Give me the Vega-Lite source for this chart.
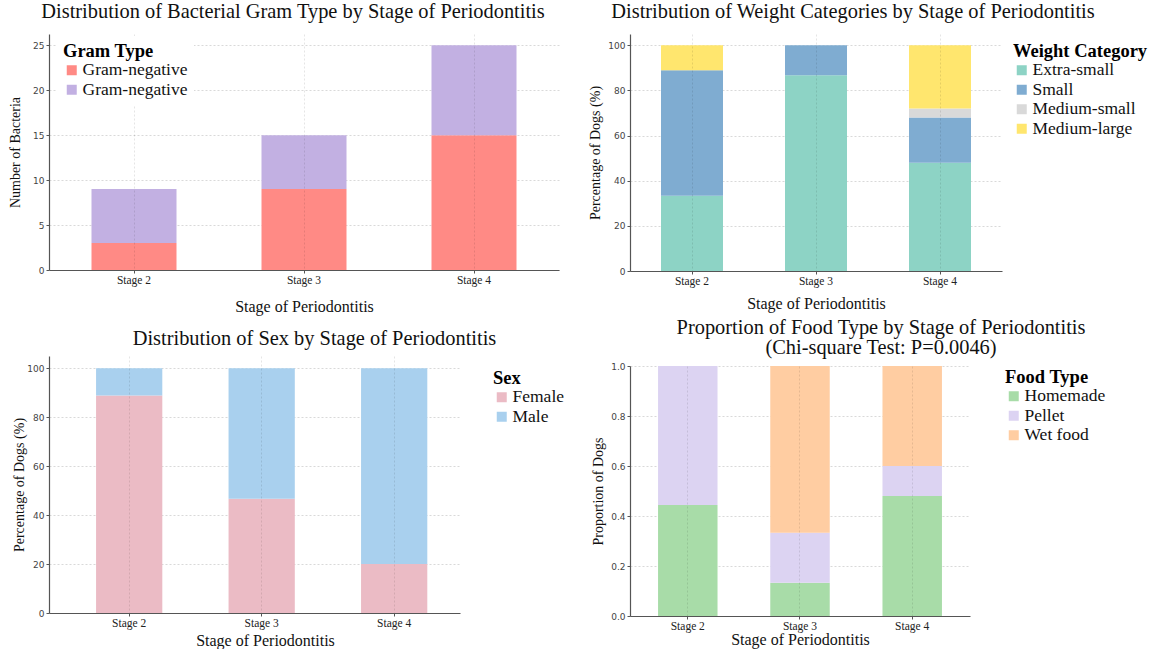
{
  "$schema": "https://vega.github.io/schema/vega-lite/v6.json",
  "padding": {"left": 8, "top": 1, "right": 0, "bottom": 0},
  "background": "white",
  "datasets": {
    "gram": [
      {"stage": "Stage 2", "gram": "Gram-negative", "count": 3},
      {"stage": "Stage 2", "gram": "Gram-positive", "count": 6},
      {"stage": "Stage 3", "gram": "Gram-negative", "count": 9},
      {"stage": "Stage 3", "gram": "Gram-positive", "count": 6},
      {"stage": "Stage 4", "gram": "Gram-negative", "count": 15},
      {"stage": "Stage 4", "gram": "Gram-positive", "count": 10}
    ],
    "weight": [
      {"stage": "Stage 2", "category": "Extra-small", "pct": 33.3},
      {"stage": "Stage 2", "category": "Small", "pct": 55.6},
      {"stage": "Stage 2", "category": "Medium-large", "pct": 11.1},
      {"stage": "Stage 3", "category": "Extra-small", "pct": 86.7},
      {"stage": "Stage 3", "category": "Small", "pct": 13.3},
      {"stage": "Stage 4", "category": "Extra-small", "pct": 48},
      {"stage": "Stage 4", "category": "Small", "pct": 20},
      {"stage": "Stage 4", "category": "Medium-small", "pct": 4},
      {"stage": "Stage 4", "category": "Medium-large", "pct": 28}
    ],
    "sex": [
      {"stage": "Stage 2", "sex": "Female", "pct": 88.9},
      {"stage": "Stage 2", "sex": "Male", "pct": 11.1},
      {"stage": "Stage 3", "sex": "Female", "pct": 46.7},
      {"stage": "Stage 3", "sex": "Male", "pct": 53.3},
      {"stage": "Stage 4", "sex": "Female", "pct": 20},
      {"stage": "Stage 4", "sex": "Male", "pct": 80}
    ],
    "food": [
      {"stage": "Stage 2", "food": "Homemade", "prop": 0.444},
      {"stage": "Stage 2", "food": "Pellet", "prop": 0.556},
      {"stage": "Stage 3", "food": "Homemade", "prop": 0.133},
      {"stage": "Stage 3", "food": "Pellet", "prop": 0.2},
      {"stage": "Stage 3", "food": "Wet food", "prop": 0.667},
      {"stage": "Stage 4", "food": "Homemade", "prop": 0.48},
      {"stage": "Stage 4", "food": "Pellet", "prop": 0.12},
      {"stage": "Stage 4", "food": "Wet food", "prop": 0.4}
    ]
  },
  "spacing": 23,
  "resolve": {"scale": {"x": "independent", "y": "independent", "color": "independent"}, "legend": {"color": "independent"}},
  "hconcat": [
    {
      "spacing": 13,
      "resolve": {"scale": {"x": "independent", "y": "independent", "color": "independent"}, "legend": {"color": "independent"}},
      "vconcat": [
        {
          "width": 510,
          "height": 236,
          "data": {"name": "gram"},
          "transform": [{"calculate": "indexof(['Gram-negative','Gram-positive'], datum.gram)", "as": "ord"}],
          "title": {"text": "Distribution of Bacterial Gram Type by Stage of Periodontitis", "dx": -11, "offset": 12},
          "mark": {"type": "bar"},
          "encoding": {
            "x": {"field": "stage", "type": "nominal", "scale": {"paddingInner": 0.5, "paddingOuter": 0.25},
                  "axis": {"title": "Stage of Periodontitis", "grid": true, "bandPosition": 0.5, "zindex": 1, "titlePadding": 13}},
            "y": {"field": "count", "type": "quantitative", "stack": "zero", "scale": {"domain": [0, 26.25], "nice": false},
                  "axis": {"title": "Number of Bacteria", "values": [0, 5, 10, 15, 20, 25], "titlePadding": 10}},
            "order": {"field": "ord", "type": "quantitative"},
            "color": {"field": "gram", "type": "nominal",
                      "scale": {"domain": ["Gram-negative", "Gram-positive"], "range": ["#FF8A85", "#C2B0E2"]},
                      "legend": {"title": "Gram Type", "orient": "none", "legendX": 8, "legendY": 2, "padding": 6, "fillColor": "white", "zindex": 3,
                                 "labelExpr": "datum.value === 'Gram-negative' ? 'Gram-negative' : '\u00a0Gram-negative'",
                                 "encode": {"symbols": {"update": {"fill": {"signal": "datum.value === 'Gram-negative' ? '#F0607A' : '#B98AF0'"}}}}}}
          }
        },
        {
          "width": 411,
          "height": 257,
          "data": {"name": "sex"},
          "transform": [{"calculate": "indexof(['Female','Male'], datum.sex)", "as": "ord"}],
          "title": {"text": "Distribution of Sex by Stage of Periodontitis", "dx": 60, "offset": 7},
          "mark": {"type": "bar"},
          "encoding": {
            "x": {"field": "stage", "type": "nominal", "scale": {"paddingInner": 0.5, "paddingOuter": 0.301, "align": 0.59},
                  "axis": {"title": "Stage of Periodontitis", "grid": true, "bandPosition": 0.5, "zindex": 1, "titlePadding": 4, "titleX": 216}},
            "y": {"field": "pct", "type": "quantitative", "stack": "zero", "scale": {"domain": [0, 105], "nice": false},
                  "axis": {"title": "Percentage of Dogs (%)", "values": [0, 20, 40, 60, 80, 100], "titlePadding": 0}},
            "order": {"field": "ord", "type": "quantitative"},
            "color": {"field": "sex", "type": "nominal",
                      "scale": {"domain": ["Female", "Male"], "range": ["#EBBBC5", "#A9D0EE"]},
                      "legend": {"title": "Sex", "orient": "none", "legendX": 444, "legendY": 13,
                                 "labelExpr": "'\u00a0' + datum.value",
                                 "encode": {"symbols": {"update": {"fill": {"signal": "datum.value === 'Female' ? '#F4A3AB' : '#87C8EB'"}}}}}}
          }
        }
      ]
    },
    {
      "spacing": 5,
      "resolve": {"scale": {"x": "independent", "y": "independent", "color": "independent"}, "legend": {"color": "independent"}},
      "vconcat": [
        {
          "width": 372,
          "height": 237,
          "data": {"name": "weight"},
          "transform": [{"calculate": "indexof(['Extra-small','Small','Medium-small','Medium-large'], datum.category)", "as": "ord"}],
          "title": {"text": "Distribution of Weight Categories by Stage of Periodontitis", "dx": 37, "offset": 12},
          "mark": {"type": "bar"},
          "encoding": {
            "x": {"field": "stage", "type": "nominal", "scale": {"paddingInner": 0.5, "paddingOuter": 0.25},
                  "axis": {"title": "Stage of Periodontitis", "grid": true, "bandPosition": 0.5, "zindex": 1, "titlePadding": 9}},
            "y": {"field": "pct", "type": "quantitative", "stack": "zero", "scale": {"domain": [0, 105], "nice": false},
                  "axis": {"title": "Percentage of Dogs (%)", "values": [0, 20, 40, 60, 80, 100], "titlePadding": 5}},
            "order": {"field": "ord", "type": "quantitative"},
            "color": {"field": "category", "type": "nominal",
                      "scale": {"domain": ["Extra-small", "Small", "Medium-small", "Medium-large"], "range": ["#8DD3C5", "#7FACD1", "#D9D9D9", "#FFE66E"]},
                      "legend": {"title": "Weight Category", "orient": "none", "legendX": 383, "legendY": 8,
                                 "labelExpr": "datum.value === 'Extra-small' ? datum.value : '\u00a0' + datum.value",
                                 "encode": {"symbols": {"update": {"fill": {"signal": "['#6EDCCF','#4A8FD8','#AAAAAA','#FFC107'][indexof(['Extra-small','Small','Medium-small','Medium-large'], datum.value)]"}}}}}}
          }
        },
        {
          "width": 340,
          "height": 250,
          "data": {"name": "food"},
          "transform": [{"calculate": "indexof(['Homemade','Pellet','Wet food'], datum.food)", "as": "ord"}],
          "title": {"text": ["Proportion of Food Type by Stage of Periodontitis", "(Chi-square Test: P=0.0046)"], "lineHeight": 20, "dx": 81, "offset": 4},
          "mark": {"type": "bar"},
          "encoding": {
            "x": {"field": "stage", "type": "nominal", "scale": {"paddingInner": 0.47, "paddingOuter": 0.25},
                  "axis": {"title": "Stage of Periodontitis", "grid": true, "bandPosition": 0.5, "zindex": 1, "titlePadding": 0}},
            "y": {"field": "prop", "type": "quantitative", "stack": "zero", "scale": {"domain": [0, 1], "nice": false},
                  "axis": {"title": "Proportion of Dogs", "values": [0, 0.2, 0.4, 0.6, 0.8, 1], "format": ".1f", "titlePadding": 5}},
            "order": {"field": "ord", "type": "quantitative"},
            "color": {"field": "food", "type": "nominal",
                      "scale": {"domain": ["Homemade", "Pellet", "Wet food"], "range": ["#A8DCA8", "#DCD3F2", "#FFCDA2"]},
                      "legend": {"title": "Food Type", "orient": "none", "legendX": 375, "legendY": 2,
                                 "labelExpr": "'\u00a0' + datum.value",
                                 "encode": {"symbols": {"update": {"fill": {"signal": "['#A8E0A0','#C9A6E8','#F7C6AA'][indexof(['Homemade','Pellet','Wet food'], datum.value)]"}}}}}}
          }
        }
      ]
    }
  ],
  "config": {
    "view": {"stroke": null},
    "title": {"font": "Liberation Serif", "fontSize": 20.4, "fontWeight": "normal", "color": "#111", "anchor": "middle", "frame": "group"},
    "axis": {
      "domainColor": "#555", "domainWidth": 1.2, "tickColor": "#555", "tickSize": 3,
      "labelFont": "DejaVu Sans", "labelFontSize": 9, "labelColor": "#444", "labelPadding": 2,
      "titleFont": "Liberation Serif", "titleFontSize": 14, "titleFontWeight": "normal", "titleColor": "#111",
      "gridColor": "#cfcfcf", "gridDash": [2, 2], "gridWidth": 0.8
    },
    "axisX": {
      "labelFont": "Liberation Serif", "labelFontSize": 11.5, "labelColor": "#222", "labelAngle": 0, "labelPadding": 1,
      "titleFontSize": 16, "gridColor": "#000", "gridOpacity": 0.13
    },
    "legend": {
      "titleFont": "Liberation Serif", "titleFontSize": 18.5, "titleFontWeight": "bold", "titleColor": "#000",
      "labelFont": "Liberation Serif", "labelFontSize": 17.5, "labelColor": "#111",
      "symbolType": "square", "symbolSize": 100, "symbolStrokeWidth": 0, "symbolOpacity": 1,
      "rowPadding": 0.5, "titlePadding": 1, "labelOffset": 2, "padding": 0
    }
  }
}
